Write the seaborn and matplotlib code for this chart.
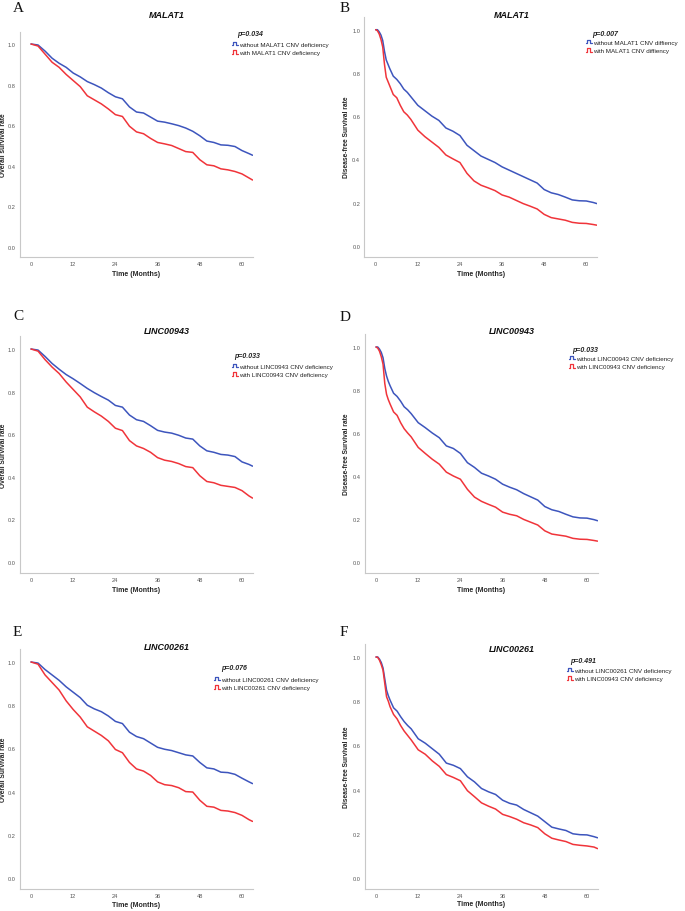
import numpy as np
import pandas as pd
import matplotlib
matplotlib.use("Agg")
import matplotlib.pyplot as plt
from matplotlib.legend_handler import HandlerBase
from matplotlib.lines import Line2D
import seaborn as sns

# ---------------- data ----------------
os_time = [0, 2, 4, 6, 8, 10, 12, 14, 16, 18, 20, 22, 24, 26, 28, 30, 32, 34, 36,
           38, 40, 42, 44, 46, 48, 50, 52, 54, 56, 58, 60, 62, 63]
dfs_time = [0, 0.5, 1, 1.5, 2, 2.5, 3, 3.5, 4, 5, 6, 7, 8, 9, 10, 12, 14, 16, 18, 20,
            22, 24, 26, 28, 30, 32, 34, 36, 38, 40, 42, 44, 46, 48, 50, 52, 54, 56, 58,
            60, 62, 63]

a_without = [1.0, 0.995, 0.965, 0.93, 0.905, 0.885, 0.857, 0.838, 0.815, 0.80, 0.783, 0.76,
             0.74, 0.73, 0.69, 0.665, 0.66, 0.64, 0.62, 0.615, 0.607, 0.598, 0.586, 0.57,
             0.548, 0.522, 0.515, 0.503, 0.501, 0.495, 0.475, 0.46, 0.452]
a_with = [1.0, 0.99, 0.95, 0.91, 0.885, 0.85, 0.82, 0.79, 0.745, 0.725, 0.705, 0.68, 0.652,
          0.643, 0.595, 0.567, 0.558, 0.535, 0.515, 0.508, 0.5, 0.485, 0.47, 0.466, 0.43,
          0.405, 0.40, 0.385, 0.38, 0.372, 0.36, 0.34, 0.33]

b_without = [1.0, 1.0, 0.99, 0.975, 0.95, 0.9, 0.86, 0.84, 0.82, 0.785, 0.77, 0.75, 0.725,
             0.71, 0.69, 0.65, 0.625, 0.6, 0.58, 0.545, 0.53, 0.51, 0.465, 0.44, 0.415, 0.4,
             0.385, 0.365, 0.35, 0.335, 0.32, 0.305, 0.29, 0.26, 0.245, 0.237, 0.225, 0.212,
             0.208, 0.207, 0.2, 0.195]
b_with = [1.0, 0.995, 0.98, 0.955, 0.92, 0.84, 0.78, 0.76, 0.74, 0.7, 0.685, 0.65, 0.62,
          0.605, 0.585, 0.535, 0.505, 0.48, 0.455, 0.42, 0.402, 0.385, 0.335, 0.3, 0.28,
          0.268, 0.255, 0.235, 0.225, 0.21, 0.195, 0.183, 0.17, 0.145, 0.13, 0.124, 0.118,
          0.108, 0.104, 0.103, 0.098, 0.095]

c_without = [1.0, 0.995, 0.965, 0.932, 0.905, 0.88, 0.86, 0.838, 0.815, 0.795, 0.777, 0.76,
             0.735, 0.727, 0.69, 0.668, 0.66, 0.64, 0.618, 0.61, 0.605, 0.595, 0.582, 0.577,
             0.545, 0.522, 0.515, 0.505, 0.502, 0.495, 0.47, 0.458, 0.45]
c_with = [1.0, 0.99, 0.95, 0.915, 0.885, 0.845, 0.81, 0.775, 0.727, 0.705, 0.685, 0.66,
          0.628, 0.617, 0.57, 0.545, 0.533, 0.515, 0.49, 0.478, 0.472, 0.462, 0.448, 0.443,
          0.405, 0.378, 0.372, 0.36, 0.355, 0.35, 0.335, 0.31, 0.30]

d_without = [1.0, 1.0, 0.99, 0.975, 0.95, 0.9, 0.865, 0.84, 0.82, 0.785, 0.77, 0.748, 0.722,
             0.708, 0.69, 0.648, 0.625, 0.6, 0.578, 0.54, 0.528, 0.505, 0.462, 0.44, 0.413,
             0.4, 0.385, 0.362, 0.348, 0.336, 0.318, 0.303, 0.288, 0.258, 0.243, 0.235,
             0.222, 0.21, 0.205, 0.204, 0.197, 0.192]
d_with = [1.0, 0.995, 0.98, 0.955, 0.92, 0.83, 0.78, 0.755, 0.735, 0.698, 0.682, 0.648,
          0.62, 0.6, 0.582, 0.533, 0.505, 0.478, 0.455, 0.418, 0.4, 0.385, 0.338, 0.302,
          0.282, 0.268, 0.255, 0.232, 0.222, 0.215, 0.198, 0.185, 0.172, 0.145, 0.13,
          0.125, 0.12, 0.11, 0.106, 0.105, 0.1, 0.097]

e_without = [1.0, 0.995, 0.965, 0.94, 0.915, 0.885, 0.86, 0.835, 0.80, 0.783, 0.77, 0.75,
             0.725, 0.715, 0.675, 0.655, 0.645, 0.625, 0.605, 0.596, 0.59, 0.58, 0.57,
             0.565, 0.535, 0.51, 0.505, 0.49, 0.488, 0.48, 0.462, 0.445, 0.437]
e_with = [1.0, 0.99, 0.94, 0.905, 0.87, 0.82, 0.78, 0.745, 0.70, 0.68, 0.66, 0.635, 0.595,
          0.58, 0.535, 0.505, 0.495, 0.475, 0.445, 0.432, 0.428, 0.418, 0.40, 0.398, 0.36,
          0.332, 0.328, 0.313, 0.31, 0.303, 0.29, 0.27, 0.262]

f_without = [1.0, 1.0, 0.99, 0.975, 0.95, 0.9, 0.85, 0.825, 0.805, 0.77, 0.755, 0.73, 0.708,
             0.69, 0.675, 0.63, 0.61, 0.585, 0.56, 0.52, 0.51, 0.495, 0.458, 0.435, 0.405,
             0.39, 0.378, 0.352, 0.338, 0.33, 0.31, 0.295, 0.28, 0.255, 0.23, 0.222, 0.215,
             0.2, 0.196, 0.195, 0.187, 0.182]
f_with = [1.0, 0.998, 0.985, 0.965, 0.94, 0.88, 0.82, 0.8, 0.775, 0.74, 0.72, 0.69, 0.665,
          0.645, 0.625, 0.58, 0.56, 0.53, 0.505, 0.468, 0.455, 0.44, 0.395, 0.368, 0.34,
          0.325, 0.312, 0.288, 0.278, 0.266, 0.25, 0.24, 0.228, 0.2, 0.18, 0.172, 0.165,
          0.152, 0.148, 0.145, 0.14, 0.133]

panel_letters = ["A", "B", "C", "D", "E", "F"]
titles = ["MALAT1", "MALAT1", "LINC00943", "LINC00943", "LINC00261", "LINC00261"]
ylabels = ["Overall survival rate", "Disease-free Survival rate", "Overall Survival rate",
           "Disease-free Survival rate", "Overall Survival rate", "Disease-free Survival rate"]
p_values = ["p=0.034", "p=0.007", "p=0.033", "p=0.033", "p=0.076", "p=0.491"]
legend_without = ["without MALAT1 CNV deficiency", "without MALAT1 CNV diffiency",
                  "without LINC0943 CNV deficiency", "without LINC00943 CNV deficiency",
                  "without LINC00261 CNV deficiency", "without LINC00261 CNV deficiency"]
legend_with = ["with MALAT1 CNV deficiency", "with MALAT1 CNV diffiency",
               "with LINC00943 CNV deficiency", "with LINC00943 CNV deficiency",
               "with LINC00261 CNV deficiency", "with LINC00943 CNV deficiency"]
x_ticks = [0, 12, 24, 36, 48, 60]
y_ticks = [0.0, 0.2, 0.4, 0.6, 0.8, 1.0]
x_label = "Time (Months)"

series = [(os_time, a_without, a_with), (dfs_time, b_without, b_with),
          (os_time, c_without, c_with), (dfs_time, d_without, d_with),
          (os_time, e_without, e_with), (dfs_time, f_without, f_with)]

# ---------------- layout (pixels) ----------------
W, H = 685, 912
# x of tick 0, x of tick 60, y of 1.0, y of 0.0
frames = [(31, 242, 45, 248), (375.7, 586.3, 30.7, 246.7),
          (31, 242, 350, 563), (376, 587, 348, 563),
          (31, 242, 663, 879), (376, 587, 658, 879)]
letter_pos = [(13, 9), (340, 8), (13, 317), (340, 318), (13, 633), (340, 633)]
title_pos = [(167, 16), (512, 15), (167, 332), (512, 332), (167, 648), (512, 650)]
xlabel_y = [275, 274, 591, 591, 906, 905]
ylabel_x = [3.8, 347, 3.8, 347, 3.8, 347]
p_pos = [(237, 35), (592, 34), (234, 357), (572, 351), (221, 669), (570, 662)]
leg_pos = [(232, 42.5), (586, 40.5), (232, 364.5), (569, 356.5), (214, 677.5), (567, 668.5)]

XLIM = (-3.2, 63.0)
YLIM = (-0.05, 1.06)

BLUE = "#3d55bd"
RED = "#f0343a"
GRAY = "#c8c8c8"
SANS = ["Liberation Sans", "DejaVu Sans"]

sns.set_style("white")
plt.rcParams['font.family'] = SANS


class StepHandler(HandlerBase):
    def create_artists(self, legend, orig_handle, xdescent, ydescent, width, height,
                       fontsize, trans):
        x0, y0 = -xdescent, -ydescent
        xs = [x0, x0 + 0.15 * width, x0 + 0.15 * width, x0 + 0.7 * width,
              x0 + 0.7 * width, x0 + width]
        ys = [y0 + 0.2 * height, y0 + 0.2 * height, y0 + 0.95 * height,
              y0 + 0.95 * height, y0 + 0.2 * height, y0 + 0.2 * height]
        ln = Line2D(xs, ys, color=orig_handle.get_color(), lw=0.9, transform=trans)
        return [ln]


fig = plt.figure(figsize=(W / 100, H / 100), dpi=100)
fig.patch.set_facecolor("white")

for i in range(6):
    x0, x60, y1, y0 = frames[i]
    sx = (x60 - x0) / 60.0
    sy = (y0 - y1)
    left = x0 + XLIM[0] * sx
    right = x0 + XLIM[1] * sx
    top = y0 - YLIM[1] * sy
    bottom = y0 - YLIM[0] * sy
    ax = fig.add_axes([left / W, 1 - bottom / H, (right - left) / W, (bottom - top) / H])

    t, s_wo, s_w = series[i]
    df = pd.DataFrame({
        "time": list(t) + list(t),
        "surv": list(s_wo) + list(s_w),
        "group": [legend_without[i]] * len(t) + [legend_with[i]] * len(t),
    })
    sns.lineplot(data=df, x="time", y="surv", hue="group",
                 palette={legend_without[i]: BLUE, legend_with[i]: RED},
                 linewidth=1.1, legend=False, ax=ax, estimator=None, sort=True)

    ax.set_xlim(*XLIM)
    ax.set_ylim(*YLIM)
    ax.set_xticks(x_ticks)
    ax.set_yticks(y_ticks)
    ax.set_xticklabels([str(v) for v in x_ticks])
    ax.set_yticklabels([f"{v:.1f}" for v in y_ticks])
    for sp in ["top", "right"]:
        ax.spines[sp].set_visible(False)
    for sp in ["left", "bottom"]:
        ax.spines[sp].set_color(GRAY)
        ax.spines[sp].set_linewidth(0.8)
    ax.tick_params(axis="both", which="major", length=1.5, width=0.6, color=GRAY,
                   labelsize=4.1, labelcolor="#555555", pad=1.6)
    ax.patch.set_alpha(0)

    ax.set_xlabel(x_label, fontsize=5, fontweight="bold", va="center")
    ax.xaxis.set_label_coords((x0 + x60) / 2 / W, 1 - xlabel_y[i] / H,
                              transform=fig.transFigure)
    ax.set_ylabel(ylabels[i], fontsize=4.8, fontweight="bold", va="center")
    ax.yaxis.set_label_coords(ylabel_x[i] / W, 1 - (top + bottom) / 2 / H,
                              transform=fig.transFigure)

    # legend
    h_wo = Line2D([], [], color=BLUE)
    h_w = Line2D([], [], color=RED)
    leg = ax.legend([h_wo, h_w], [legend_without[i], legend_with[i]],
                    handler_map={Line2D: StepHandler()},
                    loc="upper left",
                    bbox_to_anchor=(leg_pos[i][0] / W, 1 - leg_pos[i][1] / H),
                    bbox_transform=fig.transFigure, frameon=False, fontsize=4.5,
                    handlelength=1.0, handleheight=0.8, handletextpad=0.15,
                    labelspacing=0.45, borderpad=0, borderaxespad=0)
    for txt in leg.get_texts():
        txt.set_color("#222222")

    fig.text(p_pos[i][0] / W, 1 - p_pos[i][1] / H, p_values[i], fontsize=5,
             fontweight="bold", fontstyle="italic", ha="left", va="center",
             color="#222222")
    fig.text(title_pos[i][0] / W, 1 - title_pos[i][1] / H, titles[i], fontsize=6.5,
             fontweight="bold", fontstyle="italic", ha="center", va="center",
             color="#111111")
    fig.text(letter_pos[i][0] / W, 1 - letter_pos[i][1] / H, panel_letters[i],
             fontsize=11, family=["Liberation Serif", "DejaVu Serif"],
             ha="left", va="center", color="#111111")

fig.savefig("out.png", dpi=100, facecolor="white")
